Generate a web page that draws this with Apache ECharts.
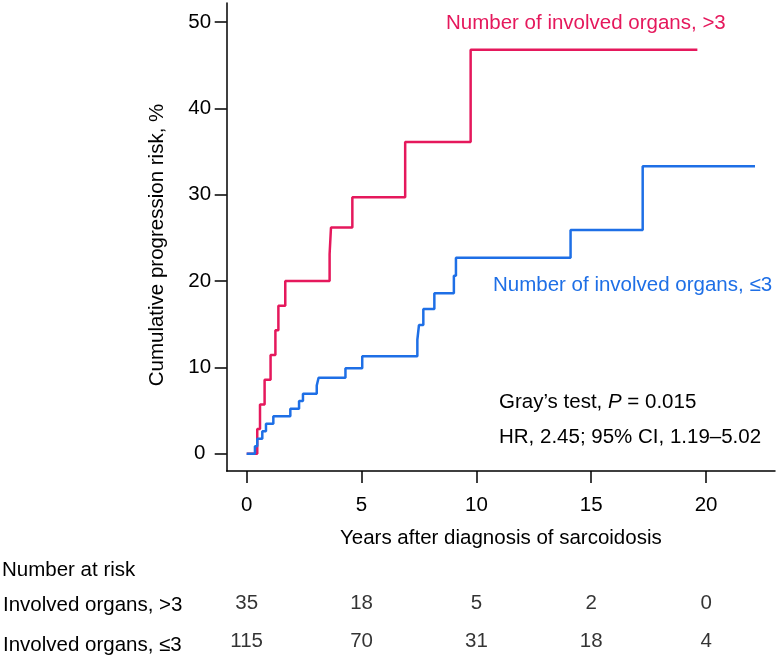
<!DOCTYPE html>
<html>
<head>
<meta charset="utf-8">
<script src="https://cdn.jsdelivr.net/npm/echarts@6/dist/echarts.min.js"></script>
<style>
html,body{margin:0;padding:0;background:#fff;}
#chart{width:779px;height:660px;}
</style>
</head>
<body>
<div id="chart"></div>
<script>
// ---- data ----
const xTicks = [0, 5, 10, 15, 20];
const yTicks = [0, 10, 20, 30, 40, 50];
const gtLabel = 'Number of involved organs, >3';
const leLabel = 'Number of involved organs, \u22643';
// cumulative incidence steps [years, %]
const gtYears = [0, 0.46, 0.58, 0.78, 1.04, 1.25, 1.38, 1.68, 3.61, 3.67, 4.6, 6.9, 9.75, 19.62];
const gtRisk  = [0, 2.86, 5.71, 8.57, 11.43, 14.29, 17.14, 20.0, 23.1, 26.2, 29.7, 36.1, 46.8, 46.8];
const leYears = [0, 0.36, 0.46, 0.68, 0.84, 1.16, 1.9, 2.28, 2.45, 3.05, 3.13, 4.3, 5.03, 7.43, 7.5, 7.69, 8.17, 9.02, 9.11, 14.1, 17.24, 22.13];
const leRisk  = [0, 0.87, 1.74, 2.61, 3.48, 4.35, 5.22, 6.1, 6.96, 7.9, 8.8, 9.9, 11.3, 13.2, 14.9, 16.75, 18.6, 20.6, 22.7, 25.9, 33.3, 33.3];
// number at risk
const riskTimes = [0, 5, 10, 15, 20];
const riskGt = [35, 18, 5, 2, 0];
const riskLe = [115, 70, 31, 18, 4];
const riskTitle = 'Number at risk';
const riskRowGt = 'Involved organs, >3';
const riskRowLe = 'Involved organs, \u22643';
const xName = 'Years after diagnosis of sarcoidosis';
const yName = 'Cumulative progression risk, %';
const statLine1 = ['Gray\u2019s test, ', 'P', ' = 0.015'];
const statLine2 = 'HR, 2.45; 95% CI, 1.19\u20135.02';

// ---- style ----
const RED = '#E5185C';
const BLUE = '#1E6FE6';
const FONT = 'Liberation Sans, Arial, sans-serif';
const FS = 20.5;
const XMIN = -0.87, XMAX = 23.0, YMIN = -2.0, YMAX = 52.2;

const chart = echarts.init(document.getElementById('chart'), null, {renderer: 'canvas'});
const zip = (a, b) => a.map((v, i) => [v, b[i]]);
const txt = {fontFamily: FONT, fontSize: FS, color: '#000'};

const option = {
  animation: false,
  backgroundColor: '#fff',
  grid: [
    {left: 226.7, right: 4, top: 3, bottom: 189, containLabel: false},
    {left: 226.7, right: 4, top: 585, height: 80, containLabel: false}
  ],
  xAxis: [
    {
      gridIndex: 0, type: 'value', min: XMIN, max: XMAX,
      axisLine: {show: true, onZero: false, lineStyle: {color: '#000', width: 1.5}},
      axisTick: {show: true, length: 12, customValues: xTicks, lineStyle: {color: '#000', width: 1.5}},
      axisLabel: Object.assign({customValues: xTicks, margin: 34, verticalAlign: 'middle'}, txt),
      splitLine: {show: false},
      name: xName, nameLocation: 'middle', nameGap: 67,
      nameTextStyle: Object.assign({verticalAlign: 'middle'}, txt)
    },
    {gridIndex: 1, type: 'value', min: XMIN, max: XMAX, show: false}
  ],
  yAxis: [
    {
      gridIndex: 0, type: 'value', min: YMIN, max: YMAX,
      axisLine: {show: true, onZero: false, lineStyle: {color: '#000', width: 1.5}},
      axisTick: {show: true, length: 12, customValues: yTicks, lineStyle: {color: '#000', width: 1.5}},
      axisLabel: Object.assign({customValues: yTicks, margin: 27, align: 'center'}, txt),
      splitLine: {show: false}
    },
    {gridIndex: 1, type: 'value', min: 0, max: 1, show: false}
  ],
  series: [
    {
      type: 'line', name: gtLabel, step: 'end', showSymbol: false, symbol: 'none',
      xAxisIndex: 0, yAxisIndex: 0,
      data: zip(gtYears, gtRisk),
      lineStyle: {color: RED, width: 2.5}, itemStyle: {color: RED}, z: 2
    },
    {
      type: 'line', name: leLabel, step: 'end', showSymbol: false, symbol: 'none',
      xAxisIndex: 0, yAxisIndex: 0,
      data: zip(leYears, leRisk),
      lineStyle: {color: BLUE, width: 2.5}, itemStyle: {color: BLUE}, z: 3
    },
    {
      type: 'scatter', xAxisIndex: 1, yAxisIndex: 1, symbolSize: 1,
      itemStyle: {color: 'rgba(0,0,0,0)'},
      data: riskTimes.map((t, i) => [t, 0.75, riskGt[i]]),
      label: Object.assign({show: true, position: 'inside', formatter: p => String(p.value[2])}, txt)
    },
    {
      type: 'scatter', xAxisIndex: 1, yAxisIndex: 1, symbolSize: 1,
      itemStyle: {color: 'rgba(0,0,0,0)'},
      data: riskTimes.map((t, i) => [t, 0.25, riskLe[i]]),
      label: Object.assign({show: true, position: 'inside', formatter: p => String(p.value[2])}, txt)
    }
  ],
  graphic: [
    {type: 'text', x: 157, y: 245, rotation: Math.PI / 2,
     style: {text: yName, font: FS + 'px ' + FONT, fill: '#000', textAlign: 'center', textVerticalAlign: 'middle'}},
    {type: 'text', x: 446, y: 23,
     style: {text: gtLabel, font: FS + 'px ' + FONT, fill: RED, textAlign: 'left', textVerticalAlign: 'middle'}},
    {type: 'text', x: 493, y: 285,
     style: {text: leLabel, font: FS + 'px ' + FONT, fill: BLUE, textAlign: 'left', textVerticalAlign: 'middle'}},
    {type: 'text', x: 499, y: 402,
     style: {
       text: '{a|' + statLine1[0] + '}{i|' + statLine1[1] + '}{a|' + statLine1[2] + '}',
       textAlign: 'left', textVerticalAlign: 'middle',
       rich: {
         a: {fontFamily: FONT, fontSize: FS, fill: '#000', color: '#000'},
         i: {fontFamily: FONT, fontSize: FS, fontStyle: 'italic', fill: '#000', color: '#000'}
       }
     }},
    {type: 'text', x: 499, y: 437,
     style: {text: statLine2, font: FS + 'px ' + FONT, fill: '#000', textAlign: 'left', textVerticalAlign: 'middle'}},
    {type: 'text', x: 2, y: 570,
     style: {text: riskTitle, font: FS + 'px ' + FONT, fill: '#000', textAlign: 'left', textVerticalAlign: 'middle'}},
    {type: 'text', x: 3, y: 605,
     style: {text: riskRowGt, font: FS + 'px ' + FONT, fill: '#000', textAlign: 'left', textVerticalAlign: 'middle'}},
    {type: 'text', x: 3, y: 645,
     style: {text: riskRowLe, font: FS + 'px ' + FONT, fill: '#000', textAlign: 'left', textVerticalAlign: 'middle'}}
  ]
};
chart.setOption(option);
</script>
</body>
</html>
